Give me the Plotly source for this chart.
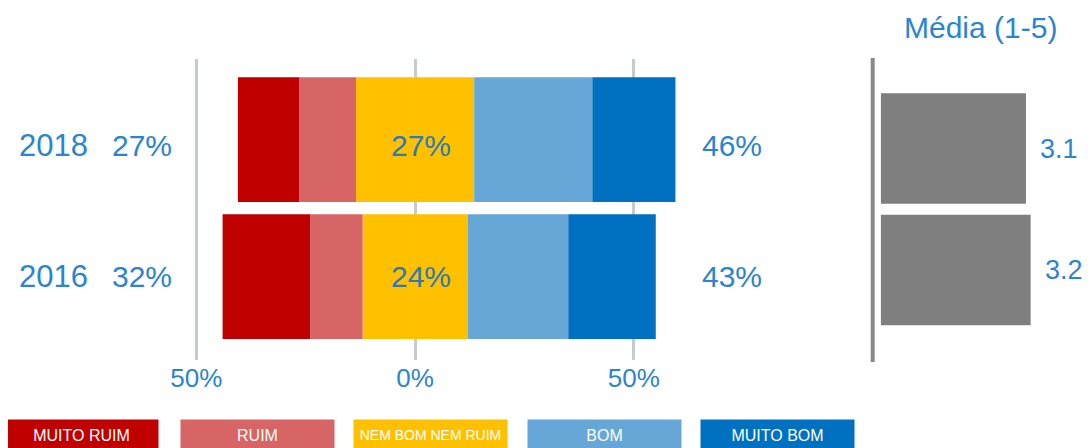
import plotly.graph_objects as go

anos = ["2016", "2018"]
muito_ruim = [20, 14]
ruim = [12, 13]
nem_bom = [24, 27]
bom = [23, 27]
muito_bom = [20, 19]
media = [3.2, 3.1]

categorias = ["MUITO RUIM", "RUIM", "NEM BOM NEM RUIM", "BOM", "MUITO BOM"]
cores = ["#C00000", "#D86565", "#FFC000", "#67A7D8", "#0070C0"]

AZUL = "#2A85CE"
FONTE = "Liberation Sans, Arial, sans-serif"
W, H = 1090, 448

# correcao empirica entre pixels da referencia e coordenadas da figura
OFF_X, ESC_X, OFF_Y = 17.4, 0.9914, 8


def px_x(p):
    return (p - OFF_X) / ESC_X / W


def px_y(p):
    return 1 - (p - OFF_Y) / H


DIREITA = OFF_X + ESC_X * W  # borda direita do papel em pixels da referencia

fig = go.Figure()

# lado negativo (do centro para fora), depois o positivo
neg = [
    ([-v / 2 for v in nem_bom], cores[2]),
    ([-v for v in ruim], cores[1]),
    ([-v for v in muito_ruim], cores[0]),
]
pos = [
    ([v / 2 for v in nem_bom], cores[2]),
    (bom, cores[3]),
    (muito_bom, cores[4]),
]
for vals, cor in neg + pos:
    fig.add_trace(
        go.Bar(
            x=vals,
            y=anos,
            orientation="h",
            marker=dict(color=cor, line=dict(width=0)),
            width=0.91,
            showlegend=False,
            hoverinfo="skip",
        )
    )

fig.add_trace(
    go.Bar(
        x=media,
        y=anos,
        orientation="h",
        marker=dict(color="#7F7F7F", line=dict(width=0)),
        width=0.91,
        xaxis="x2",
        yaxis="y2",
        showlegend=False,
        hoverinfo="skip",
    )
)

annotations = []
ajuste = [0, -6]
for i, ano in enumerate(anos):
    negativo = muito_ruim[i] + ruim[i]
    positivo = bom[i] + muito_bom[i]
    base = dict(xref="paper", yref="y", y=i, yshift=ajuste[i], xanchor="center",
                yanchor="middle", showarrow=False, font=dict(size=30, color=AZUL))
    annotations.append(dict(base, x=px_x(55), text=ano, font=dict(size=31, color=AZUL)))
    annotations.append(dict(base, x=px_x(143), text=f"{negativo}%"))
    annotations.append(dict(base, x=px_x(732), text=f"{positivo}%"))
    annotations.append(dict(base, xref="x", x=1.4, text=f"{nem_bom[i]}%",
                            font=dict(size=30, color="#2C7BB6")))
    annotations.append(dict(x=media[i], y=i, xref="x2", yref="y2", text=f"{media[i]:.1f}",
                            xanchor="left", yanchor="middle", xshift=12, showarrow=False,
                            font=dict(size=27, color=AZUL)))

annotations.append(dict(x=px_x(981), y=px_y(28), xref="paper", yref="paper", text="Média (1-5)",
                        xanchor="center", yanchor="middle", showarrow=False,
                        font=dict(size=30, color=AZUL)))

# legenda em caixas coloridas
centros = [83, 259, 431, 605, 778]
for nome, cor, cx in zip(categorias, cores, centros):
    annotations.append(dict(
        x=px_x(cx), y=px_y(419), xref="paper", yref="paper",
        xanchor="center", yanchor="top",
        text=nome, showarrow=False, width=153, height=30, bgcolor=cor, borderpad=0,
        font=dict(size=16 if len(nome) < 12 else 14, color="white",
                  family="Liberation Sans Narrow, Liberation Sans, Arial, sans-serif"),
    ))

fig.add_shape(type="line", xref="paper", yref="paper",
              x0=px_x(873), x1=px_x(873), y0=px_y(362), y1=px_y(58),
              line=dict(color="#8A8A8A", width=4))

fig.update_layout(
    width=W,
    height=H,
    barmode="relative",
    plot_bgcolor="white",
    paper_bgcolor="white",
    margin=dict(l=0, r=0, t=0, b=0),
    font=dict(family=FONTE, color=AZUL),
    xaxis=dict(
        domain=[px_x(180), px_x(700)],
        range=[(180 - 416) / 4.37, (700 - 416) / 4.37],
        tickvals=[-50, 0, 50],
        ticktext=["50%", "0%", "50%"],
        tickfont=dict(size=26, color=AZUL),
        showgrid=True,
        gridcolor="#C5CBD3",
        gridwidth=3,
        zeroline=False,
        showline=False,
        ticks="",
        fixedrange=True,
    ),
    yaxis=dict(
        domain=[px_y(360), px_y(59)],
        type="category",
        range=[-0.609, 1.588],
        showticklabels=False,
        showgrid=False,
        zeroline=False,
        fixedrange=True,
    ),
    xaxis2=dict(
        domain=[px_x(881), 1.0],
        range=[0, (DIREITA - 881) / 46.8],
        anchor="y2",
        visible=False,
        fixedrange=True,
    ),
    yaxis2=dict(
        domain=[px_y(360), px_y(58)],
        type="category",
        range=[-0.741, 1.745],
        anchor="x2",
        visible=False,
        fixedrange=True,
    ),
    annotations=annotations,
)

fig.write_html("out.html")
